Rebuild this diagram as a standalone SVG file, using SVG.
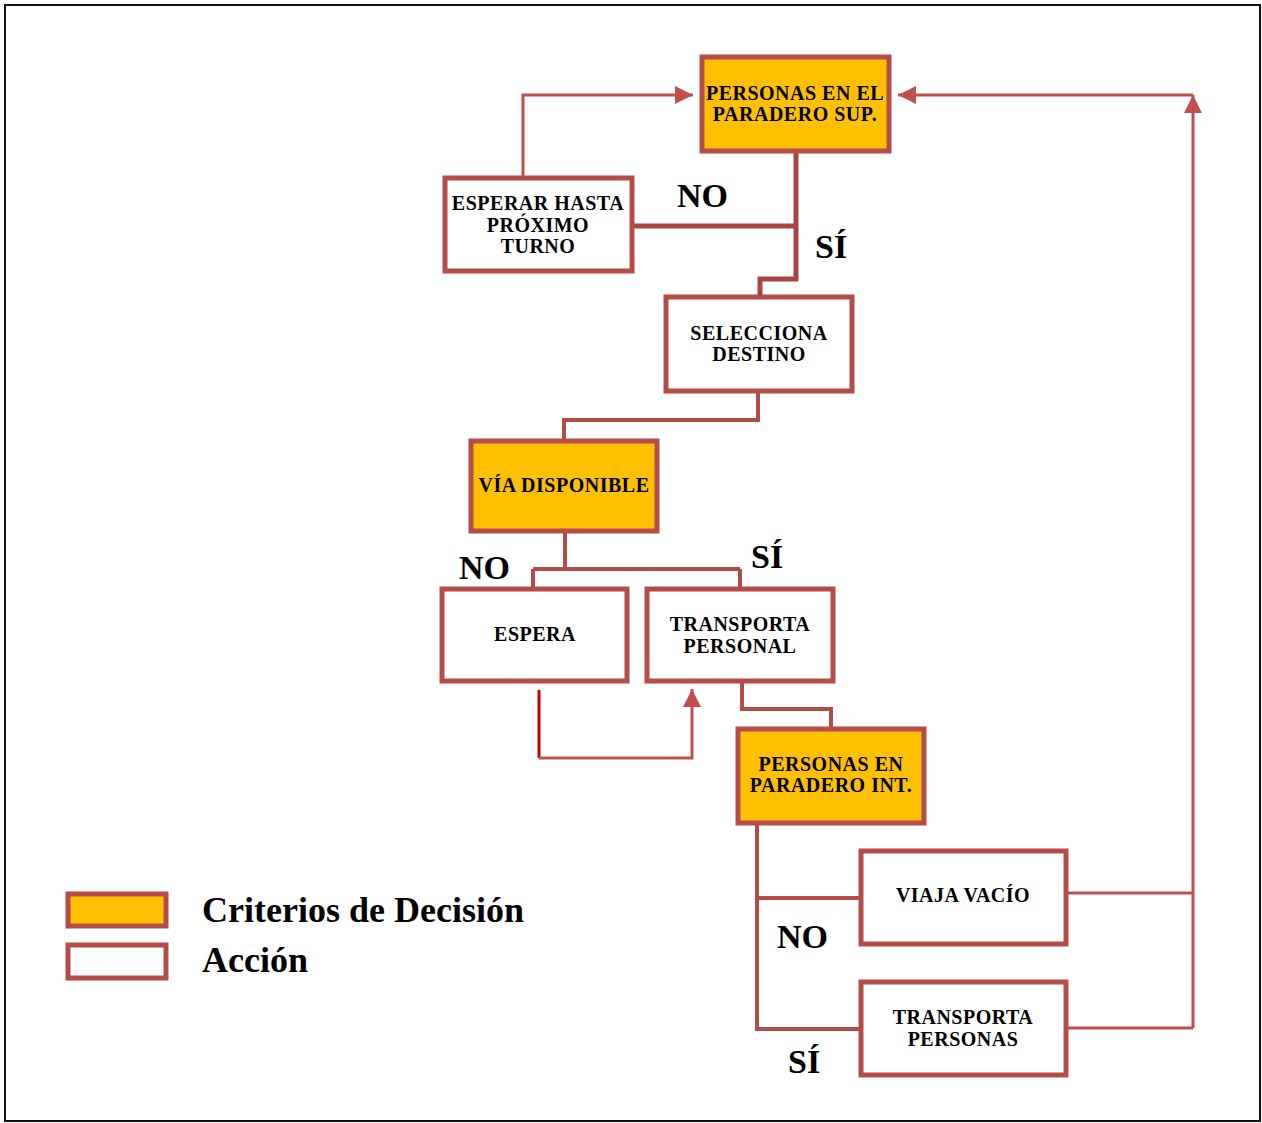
<svg xmlns="http://www.w3.org/2000/svg" width="1262" height="1123" viewBox="0 0 1262 1123">
<style>
.dec{fill:#FFC000;stroke:#B64C49;stroke-width:5}
.act{fill:#FFFFFF;stroke:#B64C49;stroke-width:5}
.t{font-family:"Liberation Serif","Times New Roman",serif;font-weight:bold;font-size:20px;letter-spacing:0.5px;fill:#000;text-anchor:middle}
.lbl{font-family:"Liberation Serif","Times New Roman",serif;font-weight:bold;font-size:34px;fill:#000}
.leg{font-family:"Liberation Serif","Times New Roman",serif;font-weight:bold;font-size:36px;fill:#000}
.c1{fill:none;stroke:#A94442;stroke-width:5}
.c2{fill:none;stroke:#B34B48;stroke-width:4}
.c3{fill:none;stroke:#C0504D;stroke-width:3}
</style>
<defs>
<marker id="ah" markerUnits="userSpaceOnUse" markerWidth="18" markerHeight="18" refX="17" refY="8.5" orient="auto" viewBox="0 0 17 17">
<path d="M0,0 L17,8.5 L0,17 z" fill="#C0504D"/>
</marker>
</defs>
<rect x="5" y="5" width="1255" height="1116" fill="#FFFFFF" stroke="#111111" stroke-width="2"/>
<g id="connectors">
<path class="c1" d="M796,153 V279 H760 V296"/>
<path class="c1" d="M634,226 H796"/>
<path class="c2" d="M758,393 V420 H564 V439"/>
<path class="c2" d="M565,533 V569"/>
<path class="c2" d="M533,569 H740"/>
<path class="c2" d="M533,569 V588"/>
<path class="c2" d="M740,569 V588"/>
<path class="c2" d="M742,683 V709 H831 V728"/>
<path class="c2" d="M757,825 V1029 H860"/>
<path class="c2" d="M757,898 H860"/>
<path class="c3" d="M1068,893 H1193"/>
<path class="c3" d="M1068,1028 H1193"/>
<path class="c3" d="M1193,1028 V95" marker-end="url(#ah)"/>
<path class="c3" d="M1193,95 H898" marker-end="url(#ah)"/>
<path class="c3" d="M523,176 V95 H693" marker-end="url(#ah)"/>
<path fill="none" stroke="#C00000" stroke-width="3" d="M539,690 V758"/>
<path class="c3" d="M539,758 H692 V689" marker-end="url(#ah)"/>
</g>
<g id="n1">
<rect class="dec" x="702" y="57" width="187" height="94"/>
<text class="t" x="795" y="100">PERSONAS EN EL</text>
<text class="t" x="795" y="121">PARADERO SUP.</text>
</g>
<g id="n2">
<rect class="act" x="445" y="178" width="187" height="93"/>
<text class="t" x="538" y="210">ESPERAR HASTA</text>
<text class="t" x="538" y="232">PRÓXIMO</text>
<text class="t" x="538" y="253">TURNO</text>
</g>
<g id="n3">
<rect class="act" x="666" y="297" width="186" height="94"/>
<text class="t" x="759" y="340">SELECCIONA</text>
<text class="t" x="759" y="361">DESTINO</text>
</g>
<g id="n4">
<rect class="dec" x="471" y="441" width="186" height="90"/>
<text class="t" x="564" y="492">VÍA DISPONIBLE</text>
</g>
<g id="n5">
<rect class="act" x="442" y="589" width="185" height="92"/>
<text class="t" x="535" y="641">ESPERA</text>
</g>
<g id="n6">
<rect class="act" x="647" y="589" width="186" height="92"/>
<text class="t" x="740" y="631">TRANSPORTA</text>
<text class="t" x="740" y="653">PERSONAL</text>
</g>
<g id="n7">
<rect class="dec" x="738" y="729" width="186" height="94"/>
<text class="t" x="831" y="771">PERSONAS EN</text>
<text class="t" x="831" y="792">PARADERO INT.</text>
</g>
<g id="n8">
<rect class="act" x="861" y="851" width="205" height="93"/>
<text class="t" x="963" y="902">VIAJA VACÍO</text>
</g>
<g id="n9">
<rect class="act" x="861" y="982" width="205" height="93"/>
<text class="t" x="963" y="1024">TRANSPORTA</text>
<text class="t" x="963" y="1046">PERSONAS</text>
</g>
<g id="labels">
<text class="lbl" x="677" y="207">NO</text>
<text class="lbl" x="815" y="258">SÍ</text>
<text class="lbl" x="459" y="579">NO</text>
<text class="lbl" x="751" y="568">SÍ</text>
<text class="lbl" x="777" y="948">NO</text>
<text class="lbl" x="788" y="1073">SÍ</text>
</g>
<g id="legend">
<rect class="dec" x="68" y="894" width="98" height="32"/>
<rect class="act" x="68" y="945" width="98" height="33"/>
<text class="leg" x="202" y="922">Criterios de Decisión</text>
<text class="leg" x="202" y="972">Acción</text>
</g>
</svg>
